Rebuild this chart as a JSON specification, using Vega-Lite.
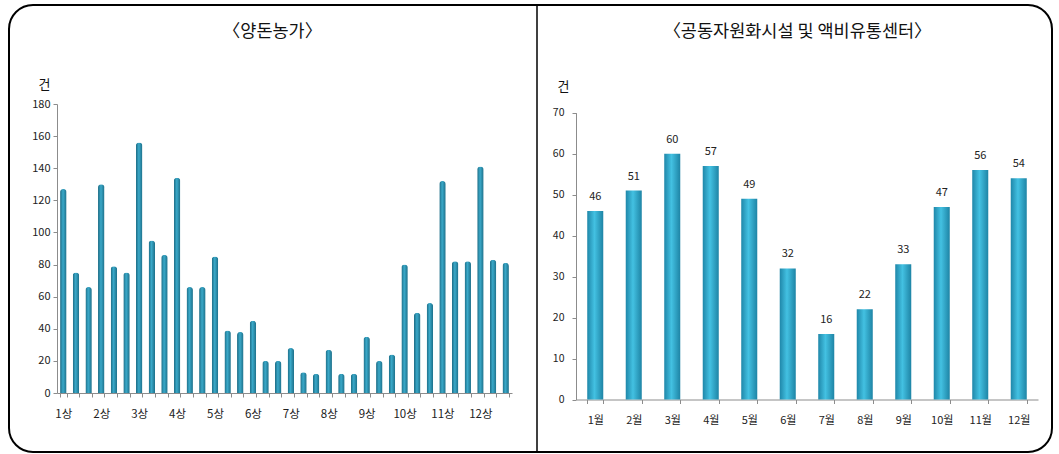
{
  "$schema": "https://vega.github.io/schema/vega-lite/v6.json",
  "width": 1043,
  "height": 447,
  "autosize": {"type": "none"},
  "padding": {"left": 9, "top": 5, "right": 7, "bottom": 2},
  "background": "white",
  "datasets": {
    "pig_farms": [
      {"period": "1상", "count": 127}, {"period": "1중", "count": 75}, {"period": "1하", "count": 66},
      {"period": "2상", "count": 130}, {"period": "2중", "count": 79}, {"period": "2하", "count": 75},
      {"period": "3상", "count": 156}, {"period": "3중", "count": 95}, {"period": "3하", "count": 86},
      {"period": "4상", "count": 134}, {"period": "4중", "count": 66}, {"period": "4하", "count": 66},
      {"period": "5상", "count": 85}, {"period": "5중", "count": 39}, {"period": "5하", "count": 38},
      {"period": "6상", "count": 45}, {"period": "6중", "count": 20}, {"period": "6하", "count": 20},
      {"period": "7상", "count": 28}, {"period": "7중", "count": 13}, {"period": "7하", "count": 12},
      {"period": "8상", "count": 27}, {"period": "8중", "count": 12}, {"period": "8하", "count": 12},
      {"period": "9상", "count": 35}, {"period": "9중", "count": 20}, {"period": "9하", "count": 24},
      {"period": "10상", "count": 80}, {"period": "10중", "count": 50}, {"period": "10하", "count": 56},
      {"period": "11상", "count": 132}, {"period": "11중", "count": 82}, {"period": "11하", "count": 82},
      {"period": "12상", "count": 141}, {"period": "12중", "count": 83}, {"period": "12하", "count": 81}
    ],
    "facilities": [
      {"month": "1월", "count": 46}, {"month": "2월", "count": 51}, {"month": "3월", "count": 60},
      {"month": "4월", "count": 57}, {"month": "5월", "count": 49}, {"month": "6월", "count": 32},
      {"month": "7월", "count": 16}, {"month": "8월", "count": 22}, {"month": "9월", "count": 33},
      {"month": "10월", "count": 47}, {"month": "11월", "count": 56}, {"month": "12월", "count": 54}
    ],
    "panels": [
      {"panel": "양돈농가"}
    ]
  },
  "layer": [
    {
      "data": {"name": "pig_farms"},
      "mark": {
        "type": "bar",
        "cornerRadiusTopLeft": 3,
        "cornerRadiusTopRight": 3,
        "color": {
          "gradient": "linear", "x1": 0, "y1": 0, "x2": 1, "y2": 0,
          "stops": [
            {"offset": 0, "color": "#1c6a83"},
            {"offset": 0.45, "color": "#3aa9c9"},
            {"offset": 1, "color": "#1d6f89"}
          ]
        }
      },
      "encoding": {
        "x": {
          "field": "period", "type": "ordinal", "sort": null,
          "scale": {"range": [48, 503], "paddingInner": 0.49, "paddingOuter": 0.245},
          "axis": {
            "orient": "bottom", "offset": -59, "tickBand": "extent",
            "labelAngle": 0, "labelFontSize": 11.5, "labelPadding": 11, "tickSize": 4,
            "labelExpr": "test(/상/, datum.label) ? datum.label : ''",
            "title": "〈양돈농가〉", "titleX": 263, "titleY": -362
          }
        },
        "y": {
          "field": "count", "type": "quantitative",
          "scale": {"domain": [0, 180], "range": [388, 99], "nice": false},
          "axis": {
            "orient": "left", "offset": -48, "values": [0, 20, 40, 60, 80, 100, 120, 140, 160, 180],
            "labelFontSize": 11, "labelPadding": 3, "tickSize": 4,
            "title": "건", "titleX": -13, "titleY": 79, "titleFontSize": 13
          }
        }
      }
    },
    {
      "data": {"name": "facilities"},
      "encoding": {
        "x": {
          "field": "month", "type": "ordinal", "sort": null,
          "scale": {"range": [567, 1029], "paddingInner": 0.584, "paddingOuter": 0.292},
          "axis": {
            "orient": "bottom", "offset": -52.5, "tickBand": "extent",
            "labelAngle": 0, "labelFontSize": 11, "labelPadding": 11, "tickSize": 4,
            "title": "〈공동자원화시설 및 액비유통센터〉", "titleX": 788, "titleY": -368.5
          }
        },
        "y": {
          "field": "count", "type": "quantitative",
          "scale": {"domain": [0, 70], "range": [394.5, 107.7], "nice": false},
          "axis": {
            "orient": "left", "offset": -567, "values": [0, 10, 20, 30, 40, 50, 60, 70],
            "labelFontSize": 10.5, "labelPadding": 8, "tickSize": 4,
            "title": "건", "titleX": -13, "titleY": 81, "titleFontSize": 13
          }
        }
      },
      "layer": [
        {
          "mark": {
            "type": "bar",
            "color": {
              "gradient": "linear", "x1": 0, "y1": 0, "x2": 1, "y2": 0,
              "stops": [
                {"offset": 0, "color": "#1f87a9"},
                {"offset": 0.45, "color": "#43c1e2"},
                {"offset": 1, "color": "#1e84a5"}
              ]
            }
          }
        },
        {
          "mark": {"type": "text", "baseline": "middle", "dy": -14, "fontSize": 11, "color": "#222"},
          "encoding": {"text": {"field": "count", "type": "quantitative"}}
        }
      ]
    },
    {
      "data": {"name": "panels"},
      "mark": {"type": "rule", "color": "#000", "strokeWidth": 1.5},
      "encoding": {
        "x": {
          "field": "panel", "type": "nominal", "bandPosition": 1,
          "scale": {"type": "band", "domain": ["양돈농가", "공동자원화시설 및 액비유통센터"], "range": [0, 1056], "paddingInner": 0, "paddingOuter": 0},
          "axis": null
        }
      }
    }
  ],
  "resolve": {
    "scale": {"x": "independent", "y": "independent"},
    "axis": {"x": "independent", "y": "independent"}
  },
  "config": {
    "font": "Noto Sans CJK KR",
    "view": {"stroke": "#000", "strokeWidth": 2, "cornerRadius": 24, "fill": "white"},
    "axis": {
      "grid": false,
      "labelFont": "Noto Sans CJK KR",
      "titleFont": "Noto Sans CJK KR",
      "labelColor": "#222",
      "domainColor": "#8c8c8c",
      "tickColor": "#8c8c8c",
      "titleColor": "#111",
      "titleFontSize": 17.5,
      "titleFontWeight": "normal",
      "titleAngle": 0,
      "titleAlign": "center",
      "titleBaseline": "middle"
    },
    "text": {"font": "Noto Sans CJK KR"}
  }
}
